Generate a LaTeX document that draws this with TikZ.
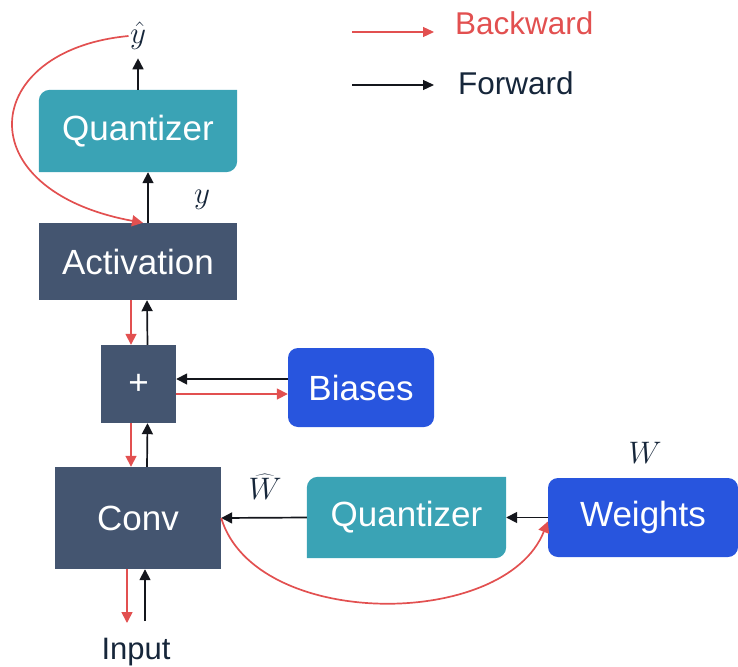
\RequirePackage{fix-cm}
\documentclass[tikz,border=0pt]{standalone}
\usepackage{fontspec}
\setmainfont{Liberation Sans}
\usepackage{tikz}
\usetikzlibrary{arrows.meta,backgrounds,positioning}
\definecolor{slate}{RGB}{68,85,112}
\definecolor{qteal}{RGB}{58,163,181}
\definecolor{pblue}{RGB}{40,85,222}
\definecolor{bred}{RGB}{226,80,80}
\definecolor{navy}{RGB}{22,38,58}
\definecolor{ink}{RGB}{20,22,28}
% quantizer box: only two corners rounded
\newcommand{\qfill}[1]{\fill[qteal] (#1.south west) -- ([yshift=-11pt]#1.north west) to[out=90,in=180] ([xshift=11pt]#1.north west) -- (#1.north east) -- ([yshift=11pt]#1.south east) to[out=-90,in=0] ([xshift=-11pt]#1.south east) -- cycle;}

\begin{document}
\begin{tikzpicture}[x=1pt,y=-1pt,
    box/.style={fill=slate,text=white,inner sep=0pt,font=\fontsize{35}{40}\selectfont},
    qbox/.style={text=white,inner sep=0pt,font=\fontsize{35}{40}\selectfont},
    pbox/.style={fill=pblue,rounded corners=10pt,text=white,inner sep=0pt,font=\fontsize{35}{40}\selectfont},
    lbl/.style={text=navy,inner sep=1pt,font=\Huge,scale=1.25},
    fwd/.style={draw=ink,line width=1.7pt,-{Triangle[length=11pt,width=11pt]}},
    bwd/.style={draw=bred,line width=1.7pt,-{Triangle[length=11pt,width=11pt]}},
    key/.style={line width=1.2pt,-{Triangle[length=11pt,width=10pt]}}]
  \useasboundingbox (0,0) rectangle (738,666);

  % blocks
  \node[qbox,minimum width=198pt,minimum height=82pt] (quanty) at (138,131) {Quantizer};
  \node[box,minimum width=198pt,minimum height=77pt] (act) at (138,261.5) {Activation};
  \node[box,minimum width=75pt,minimum height=78pt] (plus) at (138.5,384) {+};
  \node[pbox,minimum width=146pt,minimum height=79pt] (bias) at (361,387.5) {Biases};
  \node[box,minimum width=166pt,minimum height=102pt] (conv) at (138,518) {Conv};
  \node[qbox,minimum width=199pt,minimum height=81pt] (quantw) at (406.5,517.5) {Quantizer};
  \node[pbox,minimum width=190pt,minimum height=79pt] (weights) at (643,517.5) {Weights};
  \begin{scope}[on background layer]
    \qfill{quanty}
    \qfill{quantw}
  \end{scope}

  % labels
  \node[lbl] (yhat) at (138,36) {$\hat{y}$};
  \node[lbl] (ylab) at (202,200) {$y$};
  \node[lbl] (wlab) at (645,453) {$W$};
  \node[lbl] (whlab) at (265,487) {$\widehat{W}$};
  \node[anchor=north,inner sep=0pt,text=navy,font=\fontsize{31}{36}\selectfont] (input) at (136,638) {Input};

  % forward
  \draw[fwd,shorten >=7pt] (quanty.north) -- (yhat);
  \draw[fwd] ([xshift=10pt]act.north) -- ([xshift=10pt]quanty.south);
  \draw[fwd] ([xshift=9pt]plus.north) -- ([xshift=9pt]act.south);
  \draw[fwd] ([xshift=9pt]conv.north) -- ([xshift=9pt]plus.south);
  \draw[fwd] ([yshift=8.5pt]bias.west) -- ([yshift=5pt]plus.east);
  \draw[fwd] (quantw.west) -- (conv.east);
  \draw[fwd] (weights.west) -- (quantw.east);
  \draw[fwd,shorten <=17pt] ([xshift=9pt]input.north) -- ([xshift=7pt]conv.south);

  % backward
  \draw[bwd] (yhat.west) .. controls (-20,50) and (-35,190) .. ([xshift=5pt]act.north);
  \draw[bwd] ([xshift=-7pt]act.south) -- ([xshift=-7.5pt]plus.north);
  \draw[bwd] ([xshift=-7.5pt]plus.south) -- ([xshift=-7pt]conv.north);
  \draw[bwd] ([yshift=-10pt]plus.east) -- ([yshift=-6.5pt]bias.west);
  \draw[bwd] (conv.east) .. controls (255,630) and (505,630) .. ([yshift=-4pt]weights.west);
  \draw[bwd,shorten >=15pt] ([xshift=-11pt]conv.south) -- ([xshift=-9pt]input.north);

  % legend
  \coordinate (bk1) at (352,32);
  \coordinate (bk2) at (434,32);
  \coordinate (fw1) at (352,85);
  \coordinate (fw2) at (434,85);
  \draw[key,draw=bred] (bk1) -- (bk2);
  \draw[key,draw=ink] (fw1) -- (fw2);
  \node[anchor=base west,inner sep=0pt,text=bred,font=\fontsize{31.5}{36}\selectfont] (bwtxt) at (455,35) {Backward};
  \node[anchor=base west,inner sep=0pt,text=navy,font=\fontsize{31.5}{36}\selectfont] (fwtxt) at (458,95) {Forward};
\end{tikzpicture}
\end{document}
